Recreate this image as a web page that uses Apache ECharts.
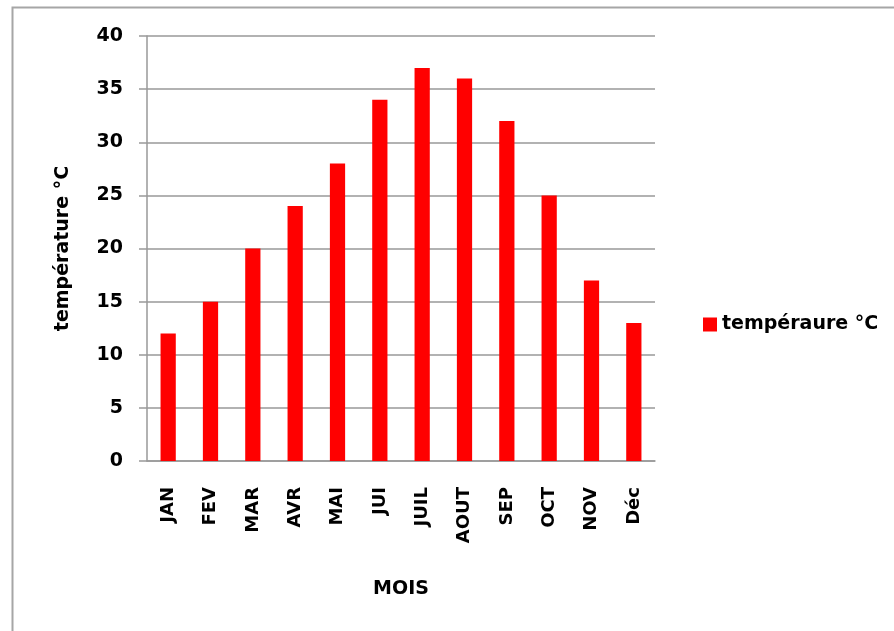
<!DOCTYPE html>
<html>
<head>
<meta charset="utf-8">
<script src="https://cdn.jsdelivr.net/npm/echarts@6/dist/echarts.min.js"></script>
<style>
  html, body { margin: 0; padding: 0; background: #fff; }
  #chart { width: 894px; height: 631px; }
</style>
</head>
<body>
<div id="chart"></div>
<script>
// Monthly temperatures (°C)
const months = ['JAN', 'FEV', 'MAR', 'AVR', 'MAI', 'JUI', 'JUIL', 'AOUT', 'SEP', 'OCT', 'NOV', 'Déc'];
const temperatures = [12, 15, 20, 24, 28, 34, 37, 36, 32, 25, 17, 13];
const seriesName = 'tempéraure °C';
const xAxisTitle = 'MOIS';
const yAxisTitle = 'température °C';

const FONT = 'DejaVu Sans';

const chart = echarts.init(document.getElementById('chart'), null, { renderer: 'canvas' });

chart.setOption({
  backgroundColor: '#ffffff',
  animation: false,
  graphic: [{
    type: 'rect',
    shape: { x: 12.5, y: 7.5, width: 900, height: 700 },
    style: { fill: 'none', stroke: '#a6a6a6', lineWidth: 2 },
    silent: true,
    z: -10
  }],
  grid: { left: 147, top: 36, width: 508, height: 425, containLabel: false },
  legend: {
    orient: 'vertical',
    left: 698,
    top: 310,
    itemWidth: 14,
    itemHeight: 14,
    itemGap: 6,
    icon: 'rect',
    textStyle: { fontFamily: FONT, fontWeight: 'bold', fontSize: 19, color: '#000' },
    data: [seriesName]
  },
  xAxis: {
    type: 'category',
    data: months,
    name: xAxisTitle,
    nameLocation: 'middle',
    nameGap: 119,
    nameTextStyle: { fontFamily: FONT, fontWeight: 'bold', fontSize: 19, color: '#000' },
    axisLine: { lineStyle: { color: '#999', width: 1.5 } },
    axisTick: { show: false },
    axisLabel: {
      rotate: 90,
      margin: 26,
      fontFamily: FONT,
      fontWeight: 'bold',
      fontSize: 18,
      color: '#000'
    }
  },
  yAxis: {
    type: 'value',
    min: 0,
    max: 40,
    interval: 5,
    name: yAxisTitle,
    nameLocation: 'middle',
    nameGap: 74,
    nameRotate: 90,
    nameTextStyle: { fontFamily: FONT, fontWeight: 'bold', fontSize: 19, color: '#000' },
    axisLine: { show: true, lineStyle: { color: '#999', width: 1.5 } },
    axisTick: { show: true, inside: false, length: 8, lineStyle: { color: '#999', width: 1.5 } },
    axisLabel: {
      margin: 24,
      fontFamily: FONT,
      fontWeight: 'bold',
      fontSize: 19,
      color: '#000'
    },
    splitLine: { show: true, lineStyle: { color: '#999', width: 1.5 } }
  },
  series: [{
    name: seriesName,
    type: 'bar',
    data: temperatures,
    barWidth: '36%',
    itemStyle: { color: '#ff0000' }
  }]
});
</script>
</body>
</html>
